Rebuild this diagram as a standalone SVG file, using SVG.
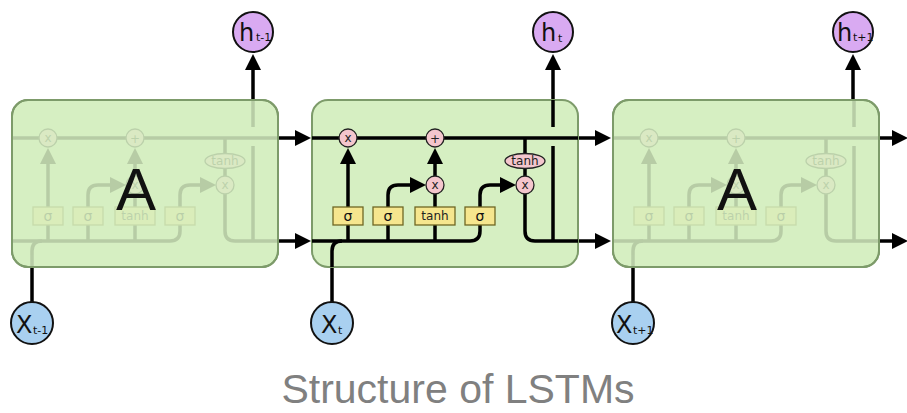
<svg xmlns="http://www.w3.org/2000/svg" xmlns:xlink="http://www.w3.org/1999/xlink" width="907" height="413" viewBox="0 0 907 413">
<style>
.box{fill:#d6efc2;stroke:#7d9b6a;stroke-width:2}
.ln{fill:none;stroke:#000;stroke-width:3.5}
.op{fill:#f4c6cd;stroke:#222;stroke-width:1.3}
.gate{fill:#f6e68e;stroke:#6f6724;stroke-width:1.3}
.gt{font-family:"DejaVu Sans",sans-serif;font-size:14px;text-anchor:middle;fill:#111}
.ot{font-family:"DejaVu Sans",sans-serif;font-size:12px;text-anchor:middle;fill:#222}
.hc{fill:#d9aaf2;stroke:#111;stroke-width:2}
.xc{fill:#a9d0f0;stroke:#111;stroke-width:2}
.big{font-family:"DejaVu Sans",sans-serif;font-size:24px;fill:#111}
.sub{font-family:"DejaVu Sans",sans-serif;font-size:11px;fill:#111}
.A{font-family:"Liberation Sans",Arial,sans-serif;font-size:60px;text-anchor:middle;fill:#111}
</style>
<defs>
<marker id="ah" markerWidth="16" markerHeight="16" refX="0" refY="8" orient="auto" markerUnits="userSpaceOnUse"><path d="M0,0 L16,8 L0,16 z" fill="#000"/></marker>
<g id="cell">
 <g class="ln">
  <path d="M0,38 H266"/>
  <path d="M0,141 H158 Q168,141 168,131 V125"/>
  <path d="M20,167 V151 Q20,141 30,141"/>
  <path d="M36,141 V125"/>
  <path d="M36,107 V64" marker-end="url(#ah)"/>
  <path d="M76,141 V125"/>
  <path d="M76,107 V95 Q76,85 86,85 H98" marker-end="url(#ah)"/>
  <path d="M123,141 V125"/>
  <path d="M123,107 V94"/>
  <path d="M123,76 V64" marker-end="url(#ah)"/>
  <path d="M168,107 V95 Q168,85 178,85 H188" marker-end="url(#ah)"/>
  <path d="M213,38 V54"/>
  <path d="M213,68 V76"/>
  <path d="M213,94 V131 Q213,141 223,141 H266"/>
  <path d="M241,141 V46"/>
  <path d="M241,27 V0"/>
 </g>
 <circle class="op" cx="36" cy="38" r="9"/><text class="ot" x="36" y="42">x</text>
 <circle class="op" cx="123" cy="38" r="9"/><text class="ot" x="123" y="43">+</text>
 <circle class="op" cx="123" cy="85" r="9"/><text class="ot" x="123" y="89">x</text>
 <circle class="op" cx="213" cy="85" r="9"/><text class="ot" x="213" y="89">x</text>
 <ellipse class="op" cx="213" cy="61" rx="20" ry="7.5"/><text class="ot" x="213" y="65">tanh</text>
 <rect class="gate" x="21" y="107" width="30" height="18"/><text class="gt" x="36" y="121">σ</text>
 <rect class="gate" x="61" y="107" width="30" height="18"/><text class="gt" x="76" y="121">σ</text>
 <rect class="gate" x="103" y="107" width="40" height="18"/><text class="ot" x="123" y="120">tanh</text>
 <rect class="gate" x="153" y="107" width="30" height="18"/><text class="gt" x="168" y="121">σ</text>
</g>
</defs>

<g id="connectors" class="ln">
 <path d="M278,138 H295" marker-end="url(#ah)"/>
 <path d="M278,241 H295" marker-end="url(#ah)"/>
 <path d="M578,138 H595" marker-end="url(#ah)"/>
 <path d="M578,241 H595" marker-end="url(#ah)"/>
 <path d="M879,138 H892" marker-end="url(#ah)"/>
 <path d="M879,241 H892" marker-end="url(#ah)"/>
 <path d="M253,100 V70" marker-end="url(#ah)"/>
 <path d="M553,100 V70" marker-end="url(#ah)"/>
 <path d="M853,100 V70" marker-end="url(#ah)"/>
 <path d="M32,267 V302"/>
 <path d="M332,267 V302"/>
 <path d="M633,267 V302"/>
</g>

<g id="A_prev" transform="translate(12,100)">
 <rect class="box" width="266" height="167" rx="16"/>
 <use href="#cell" xlink:href="#cell" opacity="0.14"/>
 <rect width="266" height="167" rx="16" fill="none" stroke="#7d9b6a" stroke-width="2"/>
 <text class="A" x="124" y="110">A</text>
</g>

<g id="A_cur" transform="translate(312,100)">
 <rect class="box" width="266" height="167" rx="16"/>
 <use href="#cell" xlink:href="#cell"/>
</g>

<g id="A_next" transform="translate(613,100)">
 <rect class="box" width="266" height="167" rx="16"/>
 <use href="#cell" xlink:href="#cell" opacity="0.14"/>
 <rect width="266" height="167" rx="16" fill="none" stroke="#7d9b6a" stroke-width="2"/>
 <text class="A" x="124" y="110">A</text>
</g>

<g id="h_prev"><circle class="hc" cx="253" cy="32" r="20"/><text class="big" x="239" y="41">h</text><text class="sub" x="256" y="41">t-1</text></g>
<g id="h_cur"><circle class="hc" cx="553" cy="32" r="20"/><text class="big" x="541" y="41">h</text><text class="sub" x="558" y="42">t</text></g>
<g id="h_next"><circle class="hc" cx="853" cy="32" r="20"/><text class="big" x="837" y="41">h</text><text class="sub" x="853" y="41">t+1</text></g>

<g id="x_prev"><circle class="xc" cx="32" cy="323" r="21"/><text class="big" x="16" y="333">X</text><text class="sub" x="33" y="334">t-1</text></g>
<g id="x_cur"><circle class="xc" cx="332" cy="323" r="21"/><text class="big" x="321" y="333">X</text><text class="sub" x="338" y="334">t</text></g>
<g id="x_next"><circle class="xc" cx="633" cy="323" r="21"/><text class="big" x="616" y="333">X</text><text class="sub" x="633" y="334">t+1</text></g>

<text x="458" y="403" font-family="Liberation Sans, Arial, sans-serif" font-size="41" fill="#808080" text-anchor="middle">Structure of LSTMs</text>
</svg>
